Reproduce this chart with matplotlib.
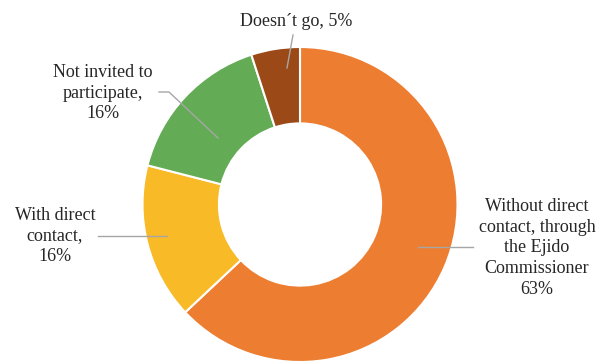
import numpy as np
import matplotlib.pyplot as plt

labels = ["Without direct\ncontact, through\nthe Ejido\nCommissioner\n63%",
          "With direct\ncontact,\n16%",
          "Not invited to\nparticipate,\n16%",
          "Doesn\u00b4t go, 5%"]
values = [63, 16, 16, 5]
colors = ["#ED7D31", "#F9BA28", "#63AC55", "#9A4917"]

H = 363
cx, cy, R = 300, H - 204.5, 157.5
hole = 0.515

# label text centres and leader lines (pixel coords, y downwards)
text_pos = [(537, 248), (55, 236), (103, 93), (296, 21)]
leaders = [[(418, 247), (473, 247)],
           [(167, 236), (98, 236)],
           [(218, 138), (169, 92), (159, 92)],
           [(287, 68), (293, 35)]]

fig = plt.figure(figsize=(5.98, 3.63), dpi=100)
ax = fig.add_axes([0, 0, 1, 1])

wedges, _ = ax.pie(values, colors=colors, startangle=90, counterclock=False,
                   radius=R, center=(cx, cy),
                   wedgeprops=dict(width=R * (1 - hole), edgecolor="white", linewidth=1.5))
ax.set_xlim(0, 598)
ax.set_ylim(0, H)
ax.set_aspect("equal")
ax.axis("off")

for lab, tp, ld in zip(labels, text_pos, leaders):
    ax.plot([p[0] for p in ld], [H - p[1] for p in ld], color="#A6A6A6", lw=1)
    ax.text(tp[0], H - tp[1], lab, ha="center", va="center", multialignment="center",
            fontsize=13, family="Liberation Serif", color="#262626", linespacing=1.27)

fig.savefig("out.png", dpi=100)
